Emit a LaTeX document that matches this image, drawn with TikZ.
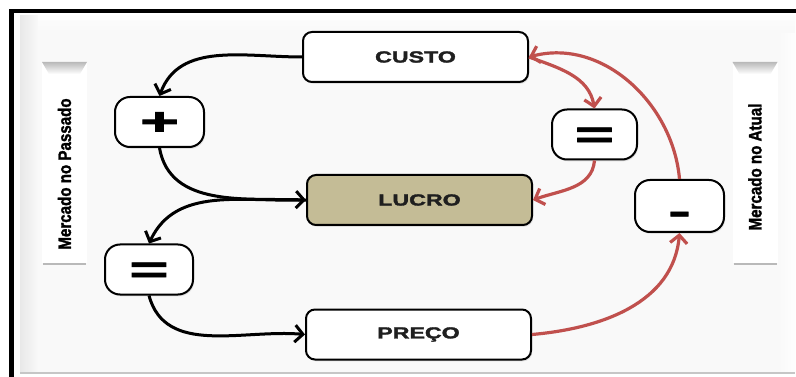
\documentclass[tikz,border=0pt]{standalone}
\usepackage{graphicx}
\usepackage{fontspec}
\setmainfont{Liberation Sans}[BoldFeatures={FakeBold=1.8}]
\usetikzlibrary{arrows.meta,shadows}
\definecolor{redarrow}{HTML}{C0504D}
\definecolor{tanfill}{HTML}{C4BC96}
\newcommand\widetxt[1]{\scalebox{1.45}[1]{#1}}
\newcommand\symtxt[2]{\raisebox{#1}[0pt][0pt]{\scalebox{1.75}[1]{\fontsize{38}{38}\selectfont\bfseries #2}}}
\newcommand\sidetxt[1]{\scalebox{0.84}[1]{\fontsize{18}{18}\selectfont\bfseries #1}}
\begin{document}
\begin{tikzpicture}[x=1pt,y=1pt,
  box/.style={draw=black, line width=2pt, rounded corners=9pt, fill=white,
    minimum width=225pt, minimum height=50pt, inner sep=0pt,
    drop shadow={opacity=0.2,shadow xshift=1.2pt,shadow yshift=-1.8pt}},
  symbox/.style={box, rounded corners=15pt, minimum height=50pt},
  boxtext/.style={font=\bfseries\fontsize{16}{16}\selectfont, text=black!88},
  sidebox/.style={fill=white, minimum width=45pt, minimum height=201pt, inner sep=0pt},
  blk/.style={draw=black, line width=3pt, -{Straight Barb[length=8pt,width=17pt]}},
  rarrow/.style={draw=redarrow, line width=3.2pt, -{Straight Barb[length=8pt,width=17pt]}}
]
\useasboundingbox (0,0) rectangle (796,-377);
\fill[white] (0,0) rectangle (796,-377);
% panel
\fill[gray!5] (20,-16) rectangle (795,-373);
\shade[left color=gray!18, right color=gray!5] (20,-16) rectangle (38,-373);
\shade[top color=gray!2, bottom color=gray!5] (38,-16) rectangle (795,-34);
\shade[left color=gray!5, right color=gray!1] (778,-34) rectangle (795,-372);
\draw[gray!45, line width=1.5pt] (20,-373) -- (795,-373);
% frame
\draw[line width=4.5pt] (11.25,-377) -- (11.25,-11.25) -- (796,-11.25);

% side labels
\node[sidebox] (pastbox) at (64.5,-162.5) {};
\shade[top color=gray!55, bottom color=white] (42,-62) -- (87,-62) -- (80,-74) -- (49,-74) -- cycle;
\draw[gray!55, line width=1.5pt] (43,-264) -- (86,-264);
\node[rotate=90] (past) at (64.5,-174) {\sidetxt{Mercado no Passado}};
\node[sidebox] (nowbox) at (755,-162.5) {};
\shade[top color=gray!55, bottom color=white] (732.5,-62) -- (777.5,-62) -- (770.5,-74) -- (739.5,-74) -- cycle;
\draw[gray!55, line width=1.5pt] (733.5,-264) -- (776.5,-264);
\node[rotate=90] (now) at (755,-167) {\sidetxt{Mercado no Atual}};

% main nodes
\node[box, boxtext] (custo) at (415.5,-57) {\widetxt{CUSTO}};
\node[box, boxtext, fill=tanfill] (lucro) at (419.5,-200) {\widetxt{LUCRO}};
\node[box, boxtext] (preco) at (418.5,-334.5) {\widetxt{PREÇO}};
\node[symbox, minimum width=89pt] (plus) at (159.5,-122) {\symtxt{-12.5pt}{+}};
\node[symbox, minimum width=88pt] (eqL) at (149,-269.5) {\symtxt{-13pt}{=}};
\node[symbox, minimum width=85pt] (eqR) at (594.5,-134.5) {\symtxt{-13pt}{=}};
\node[symbox, minimum width=89pt, minimum height=52pt] (minus) at (679.5,-206) {\symtxt{-18pt}{-}};

% black arrows
\draw[blk] (custo.west) to[out=180,in=70] (plus.north);
\draw[blk] (plus.south) to[out=-80,in=178] (lucro.west);
\draw[blk] (lucro.west) to[out=182,in=65] (eqL.north);
\draw[blk] (eqL.south) to[out=-75,in=175] (preco.west);
% red arrows
\draw[rarrow] (preco.east) to[out=5,in=-95] (minus.south);
\draw[rarrow] (minus.north) to[out=95,in=15] (custo.east);
\draw[rarrow] (custo.east) to[out=-20,in=100] (eqR.north);
\draw[rarrow] (eqR.south) to[out=-95,in=20] (lucro.east);
\end{tikzpicture}
\end{document}
